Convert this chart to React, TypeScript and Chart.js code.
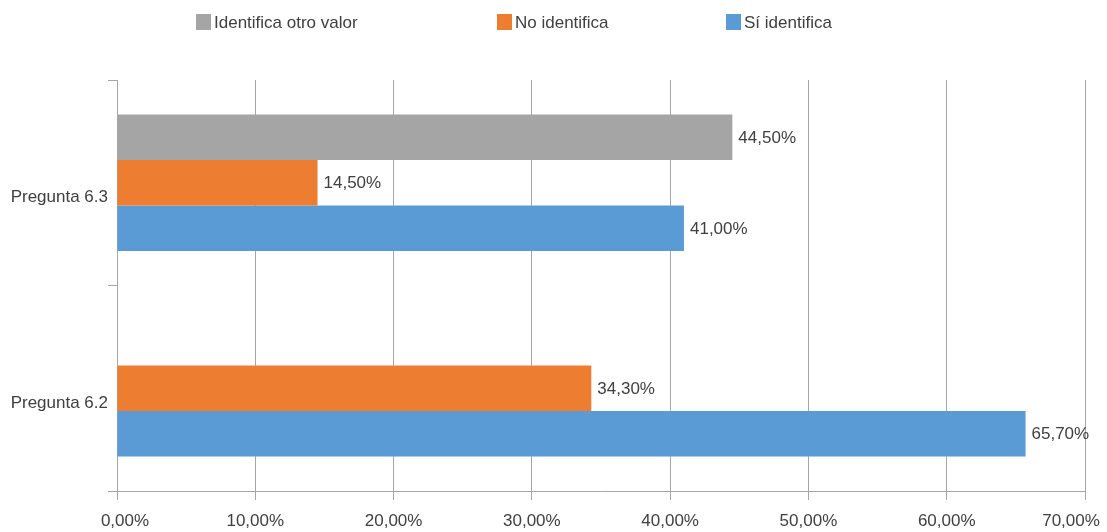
import React, { useEffect, useRef } from 'react';
import { Chart, registerables } from 'chart.js';

Chart.register(...registerables);

const categories = ['Pregunta 6.3', 'Pregunta 6.2'];
const seriesNames = ['Identifica otro valor', 'No identifica', 'Sí identifica'];
const otroValor: (number | null)[] = [44.5, null];
const noIdentifica: (number | null)[] = [14.5, 34.3];
const siIdentifica: (number | null)[] = [41.0, 65.7];
const seriesColors = ['#A5A5A5', '#ED7D31', '#5B9BD5'];
const xMin = 0;
const xMax = 70;
const xStep = 10;

const FONT = "'Liberation Sans', Arial, sans-serif";
const FONT_SIZE = 17;
const TEXT = '#404040';
const GRID = '#A6A6A6';
const LEGEND_X = [196, 497, 726];

const fmt = (v: number) => v.toFixed(2).replace('.', ',') + '%';

const legendPlugin = {
  id: 'customLegend',
  afterDraw(chart: any) {
    const ctx = chart.ctx;
    ctx.save();
    ctx.font = `${FONT_SIZE}px ${FONT}`;
    ctx.textBaseline = 'middle';
    ctx.textAlign = 'left';
    chart.data.datasets.forEach((ds: any, i: number) => {
      const x = LEGEND_X[i];
      ctx.fillStyle = ds.backgroundColor;
      ctx.fillRect(x, 14, 15, 16);
      ctx.fillStyle = TEXT;
      ctx.fillText(ds.label, x + 18, 23);
    });
    ctx.restore();
  },
};

// keep the first and last x-axis labels inside the canvas, as the reference does
const edgeLabelPlugin = {
  id: 'edgeLabels',
  beforeDraw(chart: any) {
    const s = chart.scales && chart.scales.x;
    if (!s || typeof s.getLabelItems !== 'function') return;
    const items = s.getLabelItems();
    if (!items || items.length < 2) return;
    const first = items[0];
    const last = items[items.length - 1];
    if (first && first.options && first.options.translation) first.options.translation[0] += 8;
    if (last && last.options && last.options.translation) last.options.translation[0] -= 14;
  },
};

const valueLabelPlugin = {
  id: 'valueLabels',
  afterDatasetsDraw(chart: any) {
    const ctx = chart.ctx;
    ctx.save();
    ctx.font = `${FONT_SIZE}px ${FONT}`;
    ctx.textBaseline = 'middle';
    ctx.textAlign = 'left';
    ctx.fillStyle = TEXT;
    chart.data.datasets.forEach((ds: any, i: number) => {
      const meta = chart.getDatasetMeta(i);
      meta.data.forEach((el: any, j: number) => {
        const v = ds.data[j];
        if (v === null || v === undefined) return;
        ctx.fillText(fmt(v), el.x + 6, el.y + 1);
      });
    });
    ctx.restore();
  },
};

export default function App() {
  const ref = useRef<HTMLCanvasElement | null>(null);
  useEffect(() => {
    if (!ref.current) return;
    const seriesData = [otroValor, noIdentifica, siIdentifica];
    const chart = new Chart(ref.current, {
      type: 'bar',
      data: {
        labels: categories,
        datasets: seriesNames.map((name, i) => ({
          label: name,
          data: seriesData[i],
          backgroundColor: seriesColors[i],
          borderWidth: 0,
          categoryPercentage: 0.665,
          barPercentage: 1,
        })),
      },
      options: {
        indexAxis: 'y',
        responsive: false,
        animation: false,
        layout: { padding: { top: 80, right: 22, bottom: 0, left: 0 } },
        plugins: {
          legend: { display: false },
          tooltip: { enabled: false },
          title: { display: false },
        },
        scales: {
          x: {
            type: 'linear',
            min: xMin,
            max: xMax,
            ticks: {
              stepSize: xStep,
              callback: (v: any) => fmt(Number(v)),
              font: { family: FONT, size: FONT_SIZE },
              color: TEXT,
              padding: 11,
              maxRotation: 0,
            },
            grid: { color: GRID, lineWidth: 1, tickLength: 9, drawTicks: true },
            border: { color: GRID, width: 1 },
            afterFit: (s: any) => {
              s.height = 41;
              s.paddingLeft = 0;
              s.paddingRight = 0;
            },
          },
          y: {
            type: 'category',
            ticks: {
              font: { family: FONT, size: FONT_SIZE },
              color: TEXT,
              padding: 0,
              labelOffset: 15,
            },
            grid: {
              offset: true,
              drawOnChartArea: false,
              drawTicks: true,
              tickLength: 9,
              color: GRID,
              lineWidth: 1,
            },
            border: { color: GRID, width: 1 },
            afterFit: (s: any) => {
              s.width = 117;
            },
          },
        },
      },
      plugins: [edgeLabelPlugin, legendPlugin, valueLabelPlugin],
    } as any);
    return () => chart.destroy();
  }, []);

  return (
    <div style={{ position: 'fixed', left: 0, top: 0, width: 1107, height: 532, background: '#fff' }}>
      <canvas ref={ref} width={1107} height={532} />
    </div>
  );
}
